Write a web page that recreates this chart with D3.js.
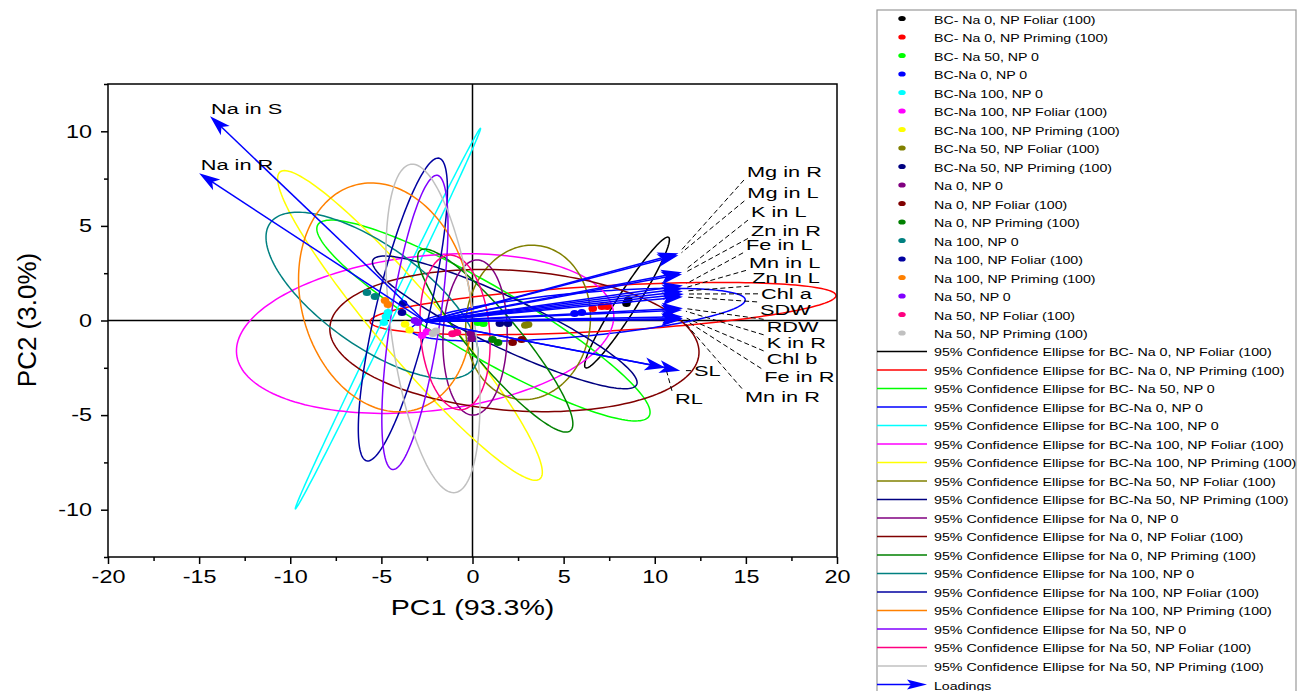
<!DOCTYPE html>
<html>
<head>
<meta charset="utf-8">
<script src="https://cdn.jsdelivr.net/npm/d3@7"></script>
<style>
body { margin: 0; background: #fff; }
text { font-family: Arial, "Liberation Sans", sans-serif; fill: #000; }
</style>
</head>
<body>
<div id="chart"></div>
<script>
// Treatment groups (legend order) and Origin's default colour list
var groups = [
	'BC- Na 0, NP Foliar (100)', 'BC- Na 0, NP Priming (100)', 'BC- Na 50, NP 0', 'BC-Na 0, NP 0',
	'BC-Na 100, NP 0', 'BC-Na 100, NP Foliar (100)', 'BC-Na 100, NP Priming (100)', 'BC-Na 50, NP Foliar (100)',
	'BC-Na 50, NP Priming (100)', 'Na 0, NP 0', 'Na 0, NP Foliar (100)', 'Na 0, NP Priming (100)',
	'Na 100, NP 0', 'Na 100, NP Foliar (100)', 'Na 100, NP Priming (100)', 'Na 50, NP 0',
	'Na 50, NP Foliar (100)', 'Na 50, NP Priming (100)'
];
var groupColors = [
	'#000000', '#ff0000', '#00ff00', '#0000ff', '#00ffff', '#ff00ff', '#ffff00', '#808000', '#000080',
	'#800080', '#800000', '#008000', '#008080', '#0000a0', '#ff8000', '#8000ff', '#ff0080', '#c0c0c0'
];

// Scores [PC1, PC2] for each group
var scorePoints = [
	[[8.45, 0.9], [8.55, 1.1]],
	[[6.6, 0.63], [7.1, 0.74], [7.4, 0.74]],
	[[0.6, -0.16], [0.3, -0.1]],
	[[5.6, 0.37], [6.0, 0.42]],
	[[-4.64, 0.42], [-4.86, -0.1], [-4.75, 0.2]],
	[[-2.77, -0.79], [-2.5, -0.6]],
	[[-3.7, -0.2], [-3.45, -0.5]],
	[[3.05, -0.21], [2.9, -0.25]],
	[[1.5, -0.16], [1.95, -0.16]],
	[[-0.1, -0.69], [-0.05, -0.95]],
	[[2.2, -1.16], [2.7, -1.0]],
	[[1.1, -1.0], [1.4, -1.16]],
	[[-5.79, 1.48], [-5.35, 1.27]],
	[[-3.81, 0.9], [-3.87, 0.42]],
	[[-4.8, 1.06], [-4.64, 0.85]],
	[[-3.16, 0.0], [-3.0, -0.1]],
	[[-0.85, -0.63], [-1.1, -0.7]],
	[[-2.17, -0.69], [-2.0, -0.55]]
];

// 95% confidence ellipses: [centre PC1, centre PC2, semi axis a, semi axis b, angle deg]
var ellipses = [
	[8.48, 0.95, 4.13, 0.55, 56.5],
	[7.16, 0.63, 12.8, 1.2, 3.1],
	[0.6, 0.0, 10.4, 1.9, -29],
	[5.8, 0.3, 9.2, 1.15, 5],
	[-4.64, 0.1, 11.26, 0.22, 63.2],
	[-2.6, -0.69, 10.4, 4.1, 6],
	[-3.43, -0.26, 10.8, 1.75, -48.6],
	[3.05, -0.1, 4.1, 3.4, 80],
	[1.77, -0.1, 7.95, 1.35, -24.4],
	[0.14, -0.9, 4.1, 1.76, 88],
	[2.3, -1.06, 10.15, 3.7, -4],
	[1.25, -1.06, 6.3, 1.35, -49],
	[-5.51, 1.32, 6.78, 2.7, -34],
	[-3.82, 0.58, 8.24, 1.46, 76],
	[-4.8, 1.22, 6.16, 4.6, -73.5],
	[-3.16, -0.1, 7.87, 1.35, 81],
	[-0.96, -0.63, 4.1, 1.9, 95],
	[-2.17, -0.42, 8.76, 2.3, -82]
];

// Loadings (arrow tips) and where their labels sit, all in PC units
var loadingOrigin = [-2.6, -0.05];
var loadingNames = ['Na in S', 'Na in R', 'Mg in R', 'Mg in L', 'K in L', 'Zn in R', 'Fe in L', 'Mn in L', 'Zn In L',
	'Chl a', 'SDW', 'RDW', 'K in R', 'Chl b', 'Fe in R', 'Mn in R', 'SL', 'RL'];
var loadingX = [-14.4, -15.0, 11.3, 11.3, 11.5, 11.5, 11.55, 11.55, 11.55, 11.6, 11.55, 11.55, 11.5, 11.55, 11.55, 11.5, 11.4, 10.6];
var loadingY = [10.8, 7.78, 3.55, 3.45, 2.55, 2.45, 1.85, 1.7, 1.55, 1.4, 1.25, 0.65, 0.55, 0.2, 0.1, 0.05, -2.65, -2.5];
var labelX = [-14.35, -14.91, 15.06, 15.08, 15.28, 15.28, 15.01, 15.17, 15.35, 15.83, 15.78, 16.14, 16.14, 16.14, 16.01, 14.95, 12.15, 11.11];
var labelY = [11.2, 8.2, 7.85, 6.74, 5.73, 4.76, 4.0, 3.07, 2.24, 1.41, 0.56, -0.36, -1.18, -2.03, -2.96, -4.02, -2.65, -4.14];

// Axis ticks
var xMajor = [-20, -15, -10, -5, 0, 5, 10, 15, 20];
var xMinor = [-17.5, -12.5, -7.5, -2.5, 2.5, 7.5, 12.5, 17.5];
var yMajor = [-10, -5, 0, 5, 10];
var yMinor = [-12.5, -7.5, -2.5, 2.5, 7.5, 12.5];

var width = 1306, height = 691;
var plot = { left: 108, right: 837, top: 84, bottom: 557 };
var sx = 1.3; // the original picture is stretched sideways, so text glyphs get widened

var svg = d3.select('#chart').append('svg').attr('width', width).attr('height', height);

var x = d3.scaleLinear().domain([-20, 20]).range([plot.left, plot.right]);
var y = d3.scaleLinear().domain([-12.5, 12.5]).range([plot.bottom, plot.top]);

function stretchText(sel, px, py, str, size, anchor, k) {
	return sel.append('text')
		.attr('transform', 'translate(' + px + ',' + py + ') scale(' + (k || sx) + ',1)')
		.attr('text-anchor', anchor || 'start')
		.attr('dominant-baseline', 'central')
		.attr('font-size', size)
		.text(str);
}

// clip so nothing leaks out of the frame
svg.append('clipPath').attr('id', 'clip').append('rect')
	.attr('x', plot.left).attr('y', plot.top)
	.attr('width', plot.right - plot.left).attr('height', plot.bottom - plot.top);
var inner = svg.append('g').attr('clip-path', 'url(#clip)');

//Zero lines
inner.append('line').attr('x1', x(0)).attr('x2', x(0)).attr('y1', plot.top).attr('y2', plot.bottom)
	.attr('stroke', '#000').attr('stroke-width', 1.5);
inner.append('line').attr('x1', plot.left).attr('x2', plot.right).attr('y1', y(0)).attr('y2', y(0))
	.attr('stroke', '#000').attr('stroke-width', 1.5);

//Ellipses
var ellipseLine = d3.line().x(function(d) { return x(d[0]); }).y(function(d) { return y(d[1]); }).curve(d3.curveLinearClosed);
function ellipsePoints(e) {
	var th = e[4] * Math.PI / 180, pts = [];
	for (var i = 0; i < 180; i++) {
		var t = i / 180 * 2 * Math.PI;
		var ca = e[2] * Math.cos(t), cb = e[3] * Math.sin(t);
		pts.push([e[0] + ca * Math.cos(th) - cb * Math.sin(th), e[1] + ca * Math.sin(th) + cb * Math.cos(th)]);
	}
	return pts;
}
inner.append('g').selectAll('path').data(ellipses).enter().append('path')
	.attr('d', function(d) { return ellipseLine(ellipsePoints(d)); })
	.attr('fill', 'none')
	.attr('stroke', function(d, i) { return groupColors[i]; })
	.attr('stroke-width', 1.5);

//Score points
scorePoints.forEach(function(pts, i) {
	inner.append('g').selectAll('ellipse').data(pts).enter().append('ellipse')
		.attr('cx', function(d) { return x(d[0]); })
		.attr('cy', function(d) { return y(d[1]); })
		.attr('rx', 4.3).attr('ry', 3.5)
		.attr('fill', groupColors[i]);
});

//Loadings arrows
var ox = x(loadingOrigin[0]), oy = y(loadingOrigin[1]);
var arrows = inner.append('g');
loadingNames.forEach(function(name, i) {
	var tx = x(loadingX[i]), ty = y(loadingY[i]);
	var len = Math.hypot(tx - ox, ty - oy), ux = (tx - ox) / len, uy = (ty - oy) / len;
	var L = 21, w = 6.5;
	arrows.append('line').attr('x1', ox).attr('y1', oy)
		.attr('x2', tx - ux * L * 0.7).attr('y2', ty - uy * L * 0.7)
		.attr('stroke', '#0000ff').attr('stroke-width', 1.5);
	arrows.append('path')
		.attr('d', 'M' + tx + ',' + ty +
			'L' + (tx - ux * L - uy * w) + ',' + (ty - uy * L + ux * w) +
			'L' + (tx - ux * L * 0.75) + ',' + (ty - uy * L * 0.75) +
			'L' + (tx - ux * L + uy * w) + ',' + (ty - uy * L - ux * w) + 'Z')
		.attr('fill', '#0000ff');
});

//Leader lines and labels
var labels = svg.append('g');
loadingNames.forEach(function(name, i) {
	var lx = x(labelX[i]), ly = y(labelY[i]);
	var tx = x(loadingX[i]), ty = y(loadingY[i]);
	if (i > 1) {
		var sy = ly + (ty > ly + 6 ? 8 : (ty < ly - 6 ? -8 : 0));
		var dx = lx - 3 - tx, dy = sy - ty, dl = Math.hypot(dx, dy);
		labels.append('line')
			.attr('x1', lx - 3).attr('y1', sy)
			.attr('x2', tx + dx / dl * 4).attr('y2', ty + dy / dl * 4)
			.attr('stroke', '#000').attr('stroke-width', 1).attr('stroke-dasharray', '5,3');
	}
	stretchText(labels, lx, ly, name, 14.5, 'start', 1.5);
});

//Frame
svg.append('rect').attr('x', plot.left).attr('y', plot.top)
	.attr('width', plot.right - plot.left).attr('height', plot.bottom - plot.top)
	.attr('fill', 'none').attr('stroke', '#000').attr('stroke-width', 1.5);

//X axis
var xAxis = svg.append('g').attr('transform', 'translate(0,' + plot.bottom + ')')
	.call(d3.axisBottom(x).tickValues(xMajor).tickSize(7).tickPadding(6).tickFormat(function(d) { return String(d); }));
svg.append('g').attr('transform', 'translate(0,' + plot.bottom + ')')
	.call(d3.axisBottom(x).tickValues(xMinor).tickSize(4).tickFormat(''));
//Y axis
var yAxis = svg.append('g').attr('transform', 'translate(' + plot.left + ',0)')
	.call(d3.axisLeft(y).tickValues(yMajor).tickSize(7).tickPadding(6).tickFormat(function(d) { return String(d); }));
svg.append('g').attr('transform', 'translate(' + plot.left + ',0)')
	.call(d3.axisLeft(y).tickValues(yMinor).tickSize(4).tickFormat(''));
svg.selectAll('.domain').remove();
svg.selectAll('.tick line').attr('stroke', '#000').attr('stroke-width', 1.5);
xAxis.selectAll('.tick text').attr('font-size', 18).attr('font-family', 'Arial, "Liberation Sans", sans-serif')
	.attr('fill', '#000').attr('transform', 'scale(' + sx + ',1)');
yAxis.selectAll('.tick text').attr('font-size', 18).attr('font-family', 'Arial, "Liberation Sans", sans-serif')
	.attr('fill', '#000').attr('x', -16 / sx).attr('transform', 'scale(' + sx + ',1)');

//Axis titles
stretchText(svg, (plot.left + plot.right) / 2, 607, 'PC1 (93.3%)', 22, 'middle');
svg.append('text').attr('transform', 'translate(27,' + 320 + ') rotate(-90)')
	.attr('text-anchor', 'middle').attr('dominant-baseline', 'central').attr('font-size', 26)
	.text('PC2 (3.0%)');

//Legend
var legend = svg.append('g');
legend.append('rect').attr('x', 877).attr('y', 10).attr('width', 419).attr('height', 700)
	.attr('fill', '#fff').attr('stroke', '#999').attr('stroke-width', 1.2);
var rowH = 18.5, row0 = 18.5;
groups.forEach(function(g, i) {
	var ry = row0 + i * rowH;
	legend.append('ellipse').attr('cx', 902).attr('cy', ry).attr('rx', 3.7).attr('ry', 2.6).attr('fill', groupColors[i]);
	stretchText(legend, 934, ry + 1, g, 11.5, 'start', 1.23);
});
groups.forEach(function(g, i) {
	var ry = row0 + (i + groups.length) * rowH;
	legend.append('line').attr('x1', 877).attr('x2', 927).attr('y1', ry).attr('y2', ry)
		.attr('stroke', groupColors[i]).attr('stroke-width', 1.3);
	stretchText(legend, 934, ry + 1, '95% Confidence Ellipse for ' + g, 11.5, 'start', 1.24);
});
var lr = row0 + groups.length * 2 * rowH;
legend.append('line').attr('x1', 877).attr('x2', 912).attr('y1', lr).attr('y2', lr)
	.attr('stroke', '#0000ff').attr('stroke-width', 1.5);
legend.append('path').attr('d', 'M927,' + lr + 'L907,' + (lr - 5) + 'L911,' + lr + 'L907,' + (lr + 5) + 'Z').attr('fill', '#0000ff');
stretchText(legend, 934, lr + 1, 'Loadings', 11.5, 'start', 1.23);
</script>
</body>
</html>
